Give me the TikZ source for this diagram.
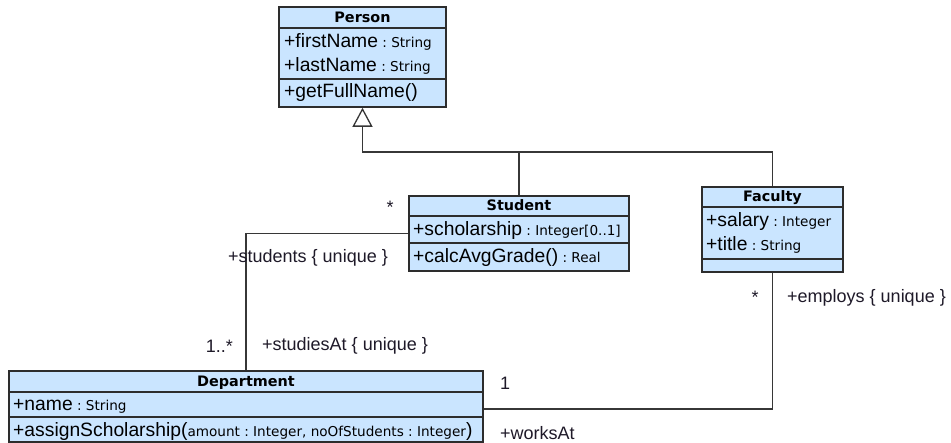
\documentclass[tikz,border=0pt]{standalone}
\usepackage{fontspec}
\setmainfont{Liberation Sans}
\newfontfamily\dvs{DejaVu Sans}
\usetikzlibrary{arrows.meta,fit}
\definecolor{clsfill}{RGB}{202,229,255}
\definecolor{clsline}{RGB}{45,45,45}
\definecolor{lnk}{RGB}{55,55,55}
\definecolor{lbl}{RGB}{30,25,40}
\newcommand{\mtxt}{\fontsize{19.3}{21}\selectfont}
\newcommand{\ltxt}{\fontsize{18}{20}\selectfont}
\newcommand{\ttxt}{\dvs\fontsize{13.6}{15}\selectfont}
\newcommand{\htxt}{\dvs\bfseries\fontsize{14.4}{16}\selectfont}
\begin{document}
\begin{tikzpicture}[x=1pt,y=-1pt,
  cls/.style={draw=clsline, fill=clsfill, line width=1.6pt, inner sep=0pt},
  sepline/.style={draw=clsline, line width=1.3pt},
  ctitle/.style={anchor=base, inner sep=0pt, font=\htxt, text=black},
  attr/.style={anchor=base west, inner sep=0pt, font=\mtxt, text=black},
  link/.style={draw=lnk, line width=1.3pt},
  albl/.style={inner sep=0pt, font=\ltxt, text=lbl}]
\useasboundingbox (0,0) rectangle (951,443);

% Person
\node[cls, fit={(279,7) (446,107)}] (Person) {};
\draw[sepline] (279,28) -- (446,28);
\draw[sepline] (279,79) -- (446,79);
\node[ctitle] (PersonT) at (362.5,23) {Person};
\node[attr] (pfn) at (284,48) {+firstName{\ttxt\ :\ String}};
\node[attr] (pln) at (284,72) {+lastName{\ttxt\ :\ String}};
\node[attr] (pgf) at (284,98) {+getFullName()};

% Student
\node[cls, fit={(409,196) (629,271)}] (Student) {};
\draw[sepline] (409,216) -- (629,216);
\draw[sepline] (409,243) -- (629,243);
\node[ctitle] (StudentT) at (519,211) {Student};
\node[attr] (ssc) at (413,236) {+scholarship{\ttxt\ :\ Integer[0..1]}};
\node[attr] (sca) at (413,263) {+calcAvgGrade(){\ttxt\ :\ Real}};

% Faculty
\node[cls, fit={(702,187) (843,272)}] (Faculty) {};
\draw[sepline] (702,207) -- (843,207);
\draw[sepline] (702,259) -- (843,259);
\node[ctitle] (FacultyT) at (772.5,202) {Faculty};
\node[attr] (fsa) at (706,227) {+salary{\ttxt\ :\ Integer}};
\node[attr] (fti) at (706,251) {+title{\ttxt\ :\ String}};

% Department
\node[cls, fit={(9,371) (483,442)}] (Department) {};
\draw[sepline] (9,392) -- (483,392);
\draw[sepline] (9,417) -- (483,417);
\node[ctitle] (DepartmentT) at (246,386.5) {Department};
\node[attr] (dna) at (13,411) {+name{\ttxt\ :\ String}};
\node[attr] (das) at (13,437) {+assignScholarship({\ttxt amount :\ Integer, noOfStudents :\ Integer})};

% Generalization
\coordinate (j) at (Person.south |- 0,152);
\draw[link, -{Triangle[open, width=20pt, length=19pt, line width=1.3pt]}] (Student.north) |- (j) -- (Person.south);
\draw[link] (Faculty.north) |- (j);

% Associations
\draw[link] (Student.west) -| (Department.north);
\draw[link] (Faculty.south) |- ([yshift=-2.5pt]Department.east);

% Association labels
\node[albl] (m1) at (390,207) {*};
\node[albl] (r1) at (308,258) {+students \{ unique \}};
\node[albl, anchor=east] (m2) at (233,346) {1..*};
\node[albl, anchor=west] (r2) at (262,346) {+studiesAt \{ unique \}};
\node[albl] (m3) at (755,297) {*};
\node[albl, anchor=west] (r3) at (787,298) {+employs \{ unique \}};
\node[albl, anchor=west] (m4) at (500,383) {1};
\node[albl, anchor=west] (r4) at (500,433) {+worksAt};
\end{tikzpicture}
\end{document}
